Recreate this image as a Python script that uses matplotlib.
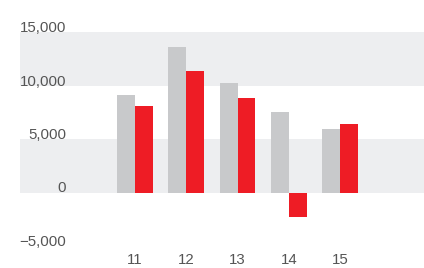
import numpy as np
import matplotlib
matplotlib.use('Agg')
import matplotlib.pyplot as plt

# Chart data:
years = ['11', '12', '13', '14', '15']
grey_values = [9100, 13600, 10200, 7500, 5900]
red_values = [8100, 11350, 8800, -2250, 6400]
y_ticks = [-5000, 0, 5000, 10000, 15000]
y_labels = ['\u22125,000', '0', '5,000', '10,000', '15,000']

plt.rcParams['font.family'] = ['Liberation Sans', 'DejaVu Sans']

fig = plt.figure(figsize=(4.24, 2.68), dpi=100)
# Axes placed in pixel terms: x from 20 to 424, y from 32 (15,000) to 246 (-5,000):
ax = fig.add_axes([20 / 424, 22 / 268, 404 / 424, 214 / 268])

x = np.arange(len(years))
w = 0.35

# Light grey bands behind the bars:
ax.axhspan(0, 5000, color='#edeef0', zorder=0, lw=0)
ax.axhspan(10000, 15000, color='#edeef0', zorder=0, lw=0)

ax.bar(x - w / 2, grey_values, width=w, color='#c8c9cb', zorder=2)
ax.bar(x + w / 2, red_values, width=w, color='#ee1c25', zorder=2)

ax.set_xlim(-2.244, 5.639)
ax.set_ylim(-5000, 15000)

# Y labels sit on top of their value lines:
for v, lab in zip(y_ticks, y_labels):
    ax.text(-1.346, v, lab, ha='right', va='baseline', fontsize=10.8, color='#555555')

ax.set_xticks(x)
ax.set_xticklabels(years, fontsize=10.8, color='#555555')
ax.tick_params(axis='x', length=0, pad=5)
ax.set_yticks([])
for s in ax.spines.values():
    s.set_visible(False)

fig.savefig('out.png', dpi=100)
